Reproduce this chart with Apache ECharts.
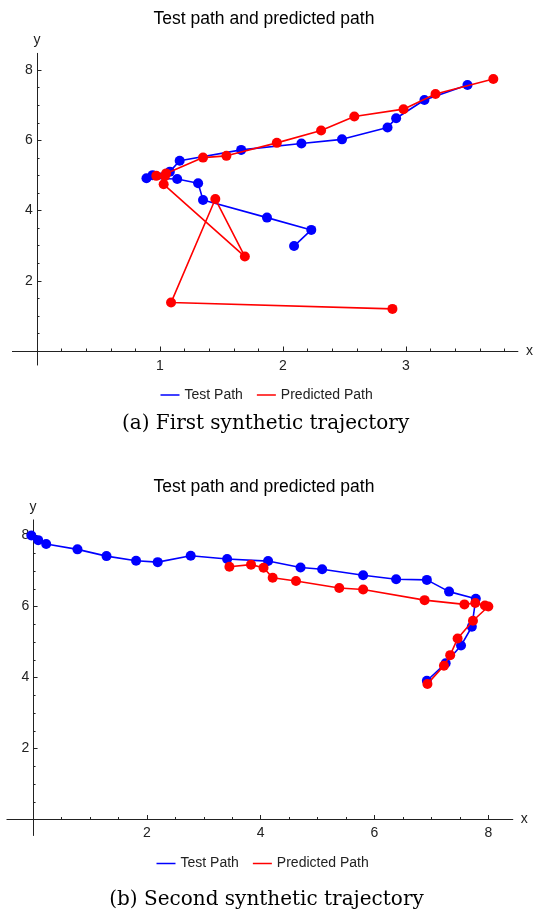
<!DOCTYPE html>
<html>
<head>
<meta charset="utf-8">
<script src="https://cdn.jsdelivr.net/npm/echarts@6/dist/echarts.min.js"></script>
<style>
html,body{margin:0;padding:0;background:#fff;}
#c{width:537px;height:909px;}
</style>
</head>
<body>
<div id="c"></div>
<script>
// ---------- Data ----------
const chartTitle = 'Test path and predicted path';
const captionA = '(a) First synthetic trajectory';
const captionB = '(b) Second synthetic trajectory';
const legendNames = ['Test Path', 'Predicted Path'];

// First synthetic trajectory
const testPathA = [
  [3.50,7.58],[3.15,7.15],[2.92,6.63],[2.85,6.37],[2.48,6.03],[2.15,5.91],[1.66,5.73],
  [1.16,5.42],[1.08,5.11],[0.94,5.01],[0.89,4.92],[1.14,4.90],[1.31,4.78],[1.35,4.30],
  [1.87,3.80],[2.23,3.45],[2.09,2.99]
];
const predPathA = [
  [3.71,7.75],[3.24,7.32],[2.98,6.89],[2.58,6.68],[2.31,6.28],[1.95,5.93],[1.54,5.56],
  [1.35,5.51],[1.05,5.06],[0.97,4.99],[1.04,4.98],[1.03,4.75],[1.69,2.69],[1.45,4.33],
  [1.09,1.38],[2.89,1.20]
];

// Second synthetic trajectory
const testPathB = [
  [-0.03,8.00],[0.09,7.87],[0.23,7.76],[0.78,7.61],[1.29,7.42],[1.81,7.29],[2.19,7.25],
  [2.77,7.43],[3.41,7.34],[4.13,7.28],[4.70,7.10],[5.08,7.05],[5.80,6.88],[6.38,6.77],
  [6.92,6.75],[7.31,6.42],[7.78,6.22],[7.71,5.43],[7.52,4.90],[7.25,4.40],[6.92,3.91]
];
const predPathB = [
  [3.45,7.12],[3.83,7.18],[4.05,7.09],[4.21,6.81],[4.62,6.72],[5.38,6.52],[5.80,6.48],
  [6.88,6.18],[7.58,6.06],[7.77,6.10],[7.94,6.03],[8.00,6.00],[7.73,5.60],[7.46,5.10],
  [7.33,4.63],[7.22,4.33],[6.93,3.82]
];

// Ticks
const xMajorA = [1, 2, 3];
const xMinorA = [0.2,0.4,0.6,0.8,1.2,1.4,1.6,1.8,2.2,2.4,2.6,2.8,3.2,3.4,3.6,3.8];
const xMajorB = [2, 4, 6, 8];
const xMinorB = [0.5,1,1.5,2.5,3,3.5,4.5,5,5.5,6.5,7,7.5];
const yMajor = [2, 4, 6, 8];
const yMinor = [0.5,1,1.5,2.5,3,3.5,4.5,5,5.5,6.5,7,7.5];

// ---------- Chart ----------
const FONT = 'Liberation Sans';
const AX = '#222';
const BLUE = '#0000ff';
const RED = '#ff0000';

function mainAxis(dim, gridIndex, min, max, major, otherIdx, name, nameGap, labelMargin) {
  return {
    type: 'value', gridIndex, min, max,
    position: dim === 'x' ? 'bottom' : 'left',
    name, nameLocation: 'end', nameGap,
    nameTextStyle: {fontFamily: FONT, fontSize: 14, color: AX},
    axisLine: {show: true, onZero: true, onZeroAxisIndex: otherIdx, lineStyle: {color: AX, width: 1}},
    axisTick: {show: true, inside: true, length: 4.5, customValues: major, lineStyle: {color: AX, width: 1}},
    axisLabel: {show: true, customValues: major, margin: labelMargin,
      fontFamily: FONT, fontSize: 14, color: AX},
    splitLine: {show: false}
  };
}
function minorAxis(dim, gridIndex, min, max, minor, otherIdx) {
  return {
    type: 'value', gridIndex, min, max,
    position: dim === 'x' ? 'bottom' : 'left',
    axisLine: {show: false, onZero: true, onZeroAxisIndex: otherIdx},
    axisTick: {show: true, inside: true, length: 2.5, customValues: minor, lineStyle: {color: AX, width: 1}},
    axisLabel: {show: false},
    splitLine: {show: false}
  };
}

const option = {
  animation: false,
  backgroundColor: '#fff',
  grid: [
    {left: 12.4, top: 53.35, width: 505.5, height: 311.7, containLabel: false, outerBoundsMode: 'none'},
    {left: 6.9, top: 519.9, width: 505.9, height: 315.6, containLabel: false, outerBoundsMode: 'none'}
  ],
  xAxis: [
    mainAxis('x', 0, -0.2, 3.91, xMajorA, 0, 'x', 8, -6),
    minorAxis('x', 0, -0.2, 3.91, xMinorA, 0),
    mainAxis('x', 1, -0.46, 8.43, xMajorB, 2, 'x', 8, -9),
    minorAxis('x', 1, -0.46, 8.43, xMinorB, 2)
  ],
  yAxis: [
    mainAxis('y', 0, -0.4, 8.48, yMajor, 0, 'y', 6, -20.3),
    minorAxis('y', 0, -0.4, 8.48, yMinor, 0),
    mainAxis('y', 1, -0.45, 8.44, yMajor, 2, 'y', 6, -22.4),
    minorAxis('y', 1, -0.45, 8.44, yMinor, 2)
  ],
  legend: [
    {data: legendNames, left: 155.5, top: 383, icon: 'rect', itemWidth: 19, itemHeight: 1.5,
      itemGap: 14, textStyle: {fontFamily: FONT, fontSize: 14, color: AX}, selectedMode: false},
    {data: legendNames, left: 151.5, top: 851.5, icon: 'rect', itemWidth: 19, itemHeight: 1.5,
      itemGap: 14, textStyle: {fontFamily: FONT, fontSize: 14, color: AX}, selectedMode: false}
  ],
  series: [
    {name: legendNames[0], type: 'line', xAxisIndex: 0, yAxisIndex: 0, data: testPathA,
      symbol: 'circle', symbolSize: 10, showSymbol: true, color: BLUE,
      lineStyle: {color: BLUE, width: 1.6}, itemStyle: {color: BLUE}, z: 2},
    {name: legendNames[1], type: 'line', xAxisIndex: 0, yAxisIndex: 0, data: predPathA,
      symbol: 'circle', symbolSize: 10, showSymbol: true, color: RED,
      lineStyle: {color: RED, width: 1.6}, itemStyle: {color: RED}, z: 3},
    {name: legendNames[0], type: 'line', xAxisIndex: 2, yAxisIndex: 2, data: testPathB,
      symbol: 'circle', symbolSize: 10, showSymbol: true, color: BLUE,
      lineStyle: {color: BLUE, width: 1.6}, itemStyle: {color: BLUE}, z: 2},
    {name: legendNames[1], type: 'line', xAxisIndex: 2, yAxisIndex: 2, data: predPathB,
      symbol: 'circle', symbolSize: 10, showSymbol: true, color: RED,
      lineStyle: {color: RED, width: 1.6}, itemStyle: {color: RED}, z: 3}
  ],
  graphic: [
    {type: 'text', x: 264, y: 19.5, style: {text: chartTitle, fontFamily: FONT, fontSize: 17.5,
      fill: '#000', textAlign: 'center', textVerticalAlign: 'middle'}},
    {type: 'text', x: 264, y: 487, style: {text: chartTitle, fontFamily: FONT, fontSize: 17.5,
      fill: '#000', textAlign: 'center', textVerticalAlign: 'middle'}},
    {type: 'text', x: 265.6, y: 424, style: {text: captionA, fontFamily: 'DejaVu Serif', fontSize: 20,
      fill: '#000', textAlign: 'center', textVerticalAlign: 'middle'}},
    {type: 'text', x: 266.5, y: 900, style: {text: captionB, fontFamily: 'DejaVu Serif', fontSize: 20,
      fill: '#000', textAlign: 'center', textVerticalAlign: 'middle'}}
  ]
};

const chart = echarts.init(document.getElementById('c'), null, {renderer: 'canvas'});
chart.setOption(option);
</script>
</body>
</html>
